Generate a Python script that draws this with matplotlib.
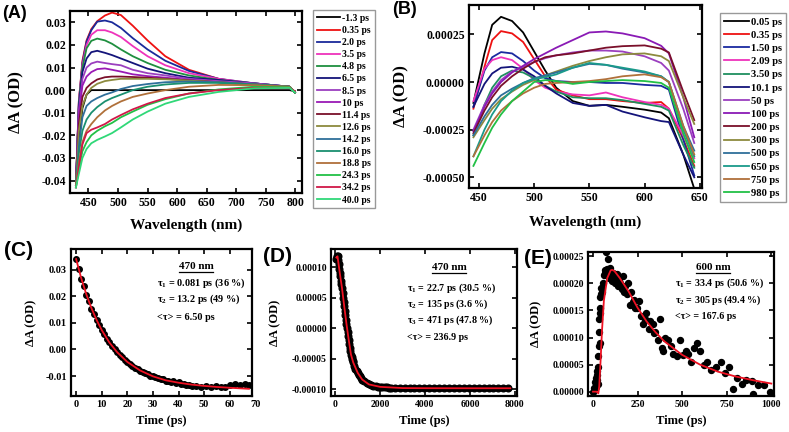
import matplotlib
matplotlib.use('Agg')
import matplotlib.pyplot as plt
from matplotlib.lines import Line2D
from matplotlib.ticker import FormatStrFormatter

plt.rcParams['font.family'] = ['Liberation Serif', 'DejaVu Serif']
plt.rcParams['font.weight'] = 'bold'
plt.rcParams['axes.unicode_minus'] = False
plt.rcParams['mathtext.default'] = 'regular'

W, H = 789, 432

# ---------------- panel A: spectra, values in mOD ----------------
wl_a = [429, 434, 440, 447, 455, 465, 478, 490, 505, 525, 550, 580, 620, 670, 730, 790, 799]
a_neg1_3 = [-43, -22, -8, -2, 0, 0, 0, 0, 0, 0, 0, 0, 0, 0, 0, 0, -0.5]
a_0_35 = [-42, -5, 13, 22, 27, 30.5, 33, 34.3, 33.2, 28.5, 22, 15, 9, 5, 2.5, 1.5, -1]
a_2_0 = [-42, -5, 12, 21.5, 26.5, 30.3, 30.8, 30, 27.5, 23, 18, 13, 8.5, 5, 3, 1.5, -1]
a_3_5 = [-42, -5, 11, 20, 24.5, 26.5, 26.5, 25.5, 23.5, 19.5, 15, 11, 7.5, 5, 3, 1.5, -1]
a_4_8 = [-42, -6, 10, 18.5, 21.8, 22.8, 22, 20.5, 18, 15, 12, 9, 6.5, 4.5, 3, 1.5, -1]
a_6_5 = [-42, -7, 8, 14, 16.8, 17.4, 16.5, 15.5, 14, 12, 9.5, 7.5, 5.5, 4.5, 3, 1.5, -1]
a_8_5 = [-42, -9, 5, 10, 11.8, 12.6, 12, 11.5, 11, 9, 7.5, 6.5, 5, 4, 3, 1.5, -1]
a_10 = [-42, -11, 2, 6, 8, 9.3, 9.6, 9, 8.2, 7, 6.2, 5.5, 4.5, 3.5, 2.5, 1.5, -1]
a_11_4 = [-42, -15, -3, 1, 3, 4.7, 5.7, 6, 6, 5.8, 5.5, 5, 4.3, 3.5, 2.5, 1.5, -1]
a_12_6 = [-42, -18, -7, -2, 1, 2.8, 4, 4.5, 5, 5, 5, 4.8, 4.2, 3.5, 2.5, 1.5, -1]
a_14_2 = [-42, -25, -12, -7, -5, -3.5, -2, -1, 0.5, 1.8, 2.7, 3.5, 3.8, 3.5, 2.5, 1.5, -1]
a_16_0 = [-42, -28, -18, -13, -10, -7.5, -5, -3.5, -2, 0, 1.5, 2.5, 3.2, 3.2, 2.5, 1.5, -1]
a_18_8 = [-42, -32, -23, -18, -15, -12, -9, -7, -5, -3, -1.5, 0, 1.5, 2.3, 2.2, 1.5, -1]
a_24_3 = [-43, -35, -27, -23, -20, -18, -16, -14.5, -12, -9.5, -6.5, -4, -1.5, 0.3, 1.5, 1.2, -1]
a_34_2 = [-43, -34, -24, -19, -17.5, -16.5, -15, -13, -11, -8.5, -6, -3.5, -1.5, 0, 1, 1, -0.5]
a_40_0 = [-43, -37, -30, -26, -23.5, -22, -20.5, -19, -16.5, -13, -9.5, -6, -3, -0.8, 0.8, 1, -1]
series_a = [a_neg1_3, a_0_35, a_2_0, a_3_5, a_4_8, a_6_5, a_8_5, a_10, a_11_4,
            a_12_6, a_14_2, a_16_0, a_18_8, a_24_3, a_34_2, a_40_0]
labels_a = ['-1.3 ps', '0.35 ps', '2.0 ps', '3.5 ps', '4.8 ps', '6.5 ps', '8.5 ps', '10 ps',
            '11.4 ps', '12.6 ps', '14.2 ps', '16.0 ps', '18.8 ps', '24.3 ps', '34.2 ps', '40.0 ps']
colors_a = ['#000000', '#ee1111', '#1a2a9a', '#ee33bb', '#1f8f3f', '#14147a', '#9b3fbf', '#9a1ab5',
            '#7a0f2a', '#8c8a3e', '#2f6f9a', '#1a8f6f', '#b0703a', '#22c046', '#d01848', '#30d878']

# ---------------- panel B: spectra, values in 1e-4 OD ----------------
wl_b = [445, 455, 462, 470, 480, 490, 500, 510, 520, 535, 550, 565, 580, 600, 615, 622, 635, 645]
b_0_05 = [-1.1, 1.5, 3.0, 3.42, 3.2, 2.6, 1.6, 0.6, -0.3, -1.0, -1.25, -1.2, -1.3, -1.45, -1.6, -1.9, -3.8, -5.6]
b_0_35 = [-1.4, 0.8, 2.2, 2.67, 2.55, 2.1, 1.2, 0.3, -0.4, -0.7, -0.9, -0.9, -1.0, -1.1, -1.05, -1.4, -3.0, -4.4]
b_1_50 = [-1.3, 0.6, 1.3, 1.57, 1.5, 1.1, 0.6, 0.2, 0.05, 0.0, 0.0, -0.05, -0.05, -0.15, -0.2, -0.4, -3.0, -4.9]
b_2_09 = [-1.0, 0.7, 1.15, 1.3, 1.15, 0.7, 0.1, -0.3, -0.5, -0.65, -0.7, -0.55, -0.8, -1.05, -1.2, -1.4, -2.8, -4.0]
b_3_50 = [-2.8, -1.2, -0.3, 0.3, 0.6, 0.5, 0.2, -0.2, -0.5, -0.8, -0.85, -0.85, -0.95, -1.15, -1.3, -1.5, -3.3, -4.5]
b_10_1 = [-1.3, -0.1, 0.45, 0.75, 0.8, 0.65, 0.3, -0.2, -0.6, -1.1, -1.25, -1.2, -1.55, -1.85, -2.05, -2.1, -3.8, -5.0]
b_50 = [-2.5, -1.2, -0.5, 0.1, 0.55, 0.8, 1.05, 1.25, 1.4, 1.55, 1.65, 1.65, 1.6, 1.35, 1.0, 0.6, -1.4, -3.2]
b_100 = [-2.6, -1.3, -0.6, 0.0, 0.5, 0.85, 1.2, 1.5, 1.8, 2.2, 2.6, 2.65, 2.55, 2.3, 1.9, 1.5, -0.8, -2.9]
b_200 = [-2.7, -1.5, -0.8, -0.2, 0.3, 0.7, 1.05, 1.3, 1.4, 1.5, 1.65, 1.8, 1.88, 1.92, 1.75, 1.55, -0.5, -2.0]
b_300 = [-2.9, -2.0, -1.4, -0.9, -0.5, -0.15, 0.1, 0.35, 0.55, 0.85, 1.1, 1.3, 1.45, 1.5, 1.35, 1.1, -0.8, -2.2]
b_500 = [-2.8, -1.8, -1.2, -0.7, -0.35, -0.05, 0.2, 0.35, 0.5, 0.75, 0.95, 0.9, 0.7, 0.5, 0.3, 0.0, -2.3, -3.6]
b_650 = [-3.9, -2.5, -1.7, -1.0, -0.45, -0.05, 0.15, 0.25, 0.4, 0.75, 1.0, 0.9, 0.75, 0.55, 0.3, 0.0, -2.5, -3.9]
b_750 = [-3.9, -2.8, -2.1, -1.5, -1.0, -0.6, -0.3, -0.1, -0.05, 0.0, 0.05, 0.15, 0.3, 0.4, 0.25, 0.0, -2.3, -3.8]
b_980 = [-4.4, -3.2, -2.4, -1.7, -1.0, -0.5, 0.0, 0.1, 0.05, -0.1, 0.0, 0.05, 0.1, 0.05, -0.05, -0.3, -2.7, -4.2]
series_b = [b_0_05, b_0_35, b_1_50, b_2_09, b_3_50, b_10_1, b_50, b_100, b_200, b_300,
            b_500, b_650, b_750, b_980]
labels_b = ['0.05 ps', '0.35 ps', '1.50 ps', '2.09 ps', '3.50 ps', '10.1 ps', '50 ps', '100 ps',
            '200 ps', '300 ps', '500 ps', '650 ps', '750 ps', '980 ps']
colors_b = ['#000000', '#ee1111', '#1a2aa0', '#ee33bb', '#1f8f5f', '#14147a', '#9b3fbf', '#8a1ab5',
            '#7a0f2a', '#8c8a3e', '#2f6f9a', '#1a9a8a', '#b0703a', '#22c046']

# ---------------- panel C: kinetics 470 nm, mOD ----------------
c_t = [0, 1, 2, 3, 4, 5, 6, 7, 8, 9, 10, 11, 12, 13, 14, 15, 16, 17, 18, 19, 20, 21, 22,
       23, 24, 25, 26, 27, 28, 29, 30, 31, 32, 33, 34, 35, 36, 37, 38, 39, 40, 41, 42, 43, 44,
       45.2, 47, 48.7, 50.6, 52.5, 54.5, 56.4, 58.3, 60.3, 62.2, 64.1, 66.1, 67.6]
c_dA = [34.0, 30.4, 26.7, 23.7, 20.6, 18.1, 15.4, 13.3, 11.0, 9.2, 7.2, 5.7, 4.0, 2.7, 1.2,
        0.3, -0.9, -2.1, -2.9, -3.9, -4.6, -5.6, -6.1, -6.9, -7.3, -8.0, -8.3, -9.0, -9.2,
        -9.8, -10.0, -10.5, -10.6, -11.1, -11.2, -11.7, -11.7, -12.2, -12.0, -12.5, -12.4,
        -13.0, -12.8, -13.3, -13.2, -13.9, -13.7, -14.0, -13.8, -14.0, -13.9, -14.0, -14.1,
        -13.2, -13.1, -13.2, -13.1, -13.3]
c_fit_t = [0, 2, 4, 6, 8, 10, 13, 16, 20, 25, 30, 35, 40, 45, 50, 55, 60, 67.5]
c_fit = [34.0, 26.8, 20.7, 15.5, 11.1, 7.3, 2.6, -1.0, -4.7, -7.9, -10.1, -11.6, -12.5,
         -13.2, -13.7, -14.1, -14.4, -14.8]

# ---------------- panel D: kinetics 470 nm, 1e-5 OD ----------------
d_t = [40, 60, 80, 100, 125, 150, 175, 200, 225, 250, 275, 300, 325, 350, 375, 400, 425,
       450, 475, 500, 525, 550, 575, 600, 625, 650, 675, 700, 725, 750, 775, 800, 850, 900,
       950, 1000, 1050, 1100, 1150, 1200, 1300, 1400, 1500, 1600, 1700, 1800, 1900, 2000,
       2100, 2200, 2300, 2400, 2500, 2650, 2870, 3090, 3310, 3530, 3750, 3970, 4190, 4410,
       4630, 4850, 5070, 5290, 5510, 5730, 5950, 6170, 6390, 6610, 6830, 7050, 7270, 7490,
       7710]
d_dA = [11.4, 11.7, 11.9, 11.8, 11.2, 10.5, 9.8, 9.1, 8.5, 7.8, 7.2, 6.6, 5.8, 5.0, 4.3,
        3.6, 2.9, 2.2, 1.4, 0.7, 0.0, -0.6, -1.3, -1.9, -2.6, -3.2, -3.8, -4.3, -4.7, -5.0,
        -5.3, -5.6, -6.1, -6.6, -7.0, -7.3, -7.6, -7.9, -8.2, -8.4, -8.7, -9.0, -9.2, -9.3,
        -9.45, -9.5, -9.55, -9.6, -9.65, -9.7, -9.7, -9.72, -9.75, -9.8, -9.75, -9.8, -9.8,
        -9.78, -9.8, -9.82, -9.8, -9.78, -9.8, -9.8, -9.82, -9.8, -9.78, -9.8, -9.8, -9.8,
        -9.82, -9.8, -9.8, -9.78, -9.8, -9.8, -9.8]
d_fit_t = [50, 100, 200, 300, 400, 500, 600, 700, 800, 1000, 1200, 1500, 2000, 3000, 4000, 6000, 7800]
d_fit = [11.6, 11.8, 9.1, 6.6, 3.6, 0.7, -1.9, -4.3, -5.6, -7.3, -8.4, -9.2, -9.6, -9.8,
         -9.82, -9.83, -9.83]

# ---------------- panel E: kinetics 600 nm, 1e-5 OD ----------------
e_t = [2, 8, 12, 15, 17, 19, 21, 23, 25, 27, 28, 30, 31, 33, 35, 37, 38, 40, 42, 44, 46, 50,
       55, 60, 65, 70, 75, 80, 84, 88, 92, 96, 100, 105, 110, 115, 120, 126, 132, 138, 145,
       152, 160, 168, 175, 182, 190, 198, 205, 212, 222, 230, 238, 245, 258, 270, 282, 292,
       300, 312, 322, 335, 340, 350, 365, 378, 385, 395, 405, 420, 435, 450, 470, 490, 505,
       520, 535, 550, 565, 585, 600, 620, 640, 660, 690, 715, 740, 760, 785, 810, 835, 860,
       890, 895, 925, 960, 995]
e_dA = [0.0, 0.6, 1.8, 0.9, 2.5, 1.2, 3.0, 2.2, 3.8, 1.5, 4.6, 6.5, 8.5, 11.0, 13.5, 9.0,
        15.5, 17.5, 14.5, 18.0, 19.2, 18.5, 20.0, 21.5, 22.0, 22.5, 25.8, 22.7, 24.5, 22.0,
        21.0, 22.8, 21.2, 20.5, 22.0, 20.8, 21.5, 20.0, 21.8, 19.5, 20.8, 20.0, 19.0, 21.4,
        18.5, 19.5, 18.0, 20.0, 16.0, 18.5, 16.5, 17.0, 15.5, 15.5, 16.8, 14.0, 12.5, 13.5,
        14.5, 11.5, 13.0, 12.5, 10.8, 11.0, 9.5, 13.5, 8.0, 7.5, 10.0, 9.5, 8.5, 7.0, 6.5,
        9.5, 6.8, 7.5, 7.0, 5.5, 8.0, 9.0, 7.5, 5.0, 5.5, 4.0, 4.5, 5.5, 3.5, 4.5, 0.5, 2.5,
        1.5, 2.2, 2.0, -0.5, 1.2, 1.2, 0.0]
e_fit_t = [0, 20, 30, 35, 43, 50, 61, 80, 99, 107, 120, 150, 200, 250, 300, 350, 400, 500,
           600, 700, 800, 900, 1000]
e_fit = [0, 0, -0.3, 1.0, 6.0, 11.0, 16.8, 21.0, 22.4, 22.5, 22.3, 21.0, 18.5, 15.5, 13.0,
         11.0, 9.3, 6.8, 5.0, 3.7, 2.8, 2.1, 1.5]

fig = plt.figure(figsize=(W / 100, H / 100), dpi=100)
B = 'bold'


def box(px_l, px_t, px_r, px_b):
    return [px_l / W, 1 - px_b / H, (px_r - px_l) / W, (px_b - px_t) / H]


def style(ax, fs):
    ax.tick_params(direction='in', top=True, right=True, length=3.5, width=1.2,
                   labelsize=fs, pad=3)
    for s in ax.spines.values():
        s.set_linewidth(1.6)


# A
ax_a = fig.add_axes(box(70, 11, 302, 193))
for vals, lab, col in zip(series_a, labels_a, colors_a):
    ax_a.plot(wl_a, [v * 1e-3 for v in vals], color=col, lw=1.3, label=lab)
ax_a.set_xlim(419, 811)
ax_a.set_ylim(-0.0455, 0.035)
ax_a.set_xticks([450, 500, 550, 600, 650, 700, 750, 800])
ax_a.set_yticks([-0.04, -0.03, -0.02, -0.01, 0.0, 0.01, 0.02, 0.03])
ax_a.yaxis.set_major_formatter(FormatStrFormatter('%.2f'))
style(ax_a, 8.5)
ax_a.set_xlabel('Wavelength (nm)', fontsize=11, fontweight=B, labelpad=7)
ax_a.set_ylabel('ΔA (OD)', fontsize=12, fontweight=B, labelpad=12)
leg = ax_a.legend(loc='upper left', bbox_to_anchor=(313 / W, 1 - 10 / H),
                  bbox_transform=fig.transFigure, borderaxespad=0,
                  prop={'size': 7, 'weight': B},
                  labelspacing=0.32, handlelength=2.4, handletextpad=0.2, borderpad=0.4,
                  fancybox=False, edgecolor='#999999', framealpha=1)
leg.get_frame().set_linewidth(1.0)

# B
ax_b = fig.add_axes(box(469, 5, 702, 188))
for vals, lab, col in zip(series_b, labels_b, colors_b):
    ax_b.plot(wl_b, [v * 1e-4 for v in vals], color=col, lw=1.3, label=lab)
ax_b.set_xlim(441, 652)
ax_b.set_ylim(-0.000556, 0.000404)
ax_b.set_xticks([450, 500, 550, 600, 650])
ax_b.set_yticks([-0.0005, -0.00025, 0.0, 0.00025])
ax_b.yaxis.set_major_formatter(FormatStrFormatter('%.5f'))
style(ax_b, 8.5)
ax_b.set_xlabel('Wavelength (nm)', fontsize=11, fontweight=B, labelpad=8)
ax_b.set_ylabel('ΔA (OD)', fontsize=12, fontweight=B, labelpad=9)
leg = ax_b.legend(loc='upper left', bbox_to_anchor=(720 / W, 1 - 13 / H),
                  bbox_transform=fig.transFigure, borderaxespad=0,
                  prop={'size': 7.6, 'weight': B},
                  labelspacing=0.36, handlelength=2.3, handletextpad=0.2, borderpad=0.4,
                  fancybox=False, edgecolor='#999999', framealpha=1)
leg.get_frame().set_linewidth(1.0)

# C
ax_c = fig.add_axes(box(71, 249, 252, 396))
ax_c.plot(c_t, [v * 1e-3 for v in c_dA], 'o', color='black', ms=4, zorder=2)
ax_c.plot(c_fit_t, [v * 1e-3 for v in c_fit], color='#ee1122', lw=1.3, zorder=3)
ax_c.set_xlim(-2, 68.7)
ax_c.set_ylim(-0.0175, 0.0378)
ax_c.set_xticks([0, 10, 20, 30, 40, 50, 60])
ax_c.set_yticks([-0.01, 0.0, 0.01, 0.02, 0.03])
ax_c.yaxis.set_major_formatter(FormatStrFormatter('%.2f'))
style(ax_c, 7.5)
ax_c.annotate('70', xy=(70, 0), xycoords=('data', 'axes fraction'), xytext=(0, -3),
              textcoords='offset points', ha='center', va='top', fontsize=7.5,
              fontweight=B, annotation_clip=False)
ax_c.set_xlabel('Time (ps)', fontsize=9, fontweight=B, labelpad=4)
ax_c.set_ylabel('ΔA (OD)', fontsize=9, fontweight=B, labelpad=6)

# D
ax_d = fig.add_axes(box(331, 249, 517, 396))
ax_d.plot(d_t, [v * 1e-5 for v in d_dA], 'o', color='black', ms=4.8, zorder=2)
ax_d.plot(d_fit_t, [v * 1e-5 for v in d_fit], color='#ee1122', lw=1.3, zorder=3)
ax_d.set_xlim(-190, 8100)
ax_d.set_ylim(-0.000111, 0.00013)
ax_d.set_xticks([0, 2000, 4000, 6000, 8000])
ax_d.set_yticks([-0.0001, -0.00005, 0.0, 0.00005, 0.0001])
ax_d.yaxis.set_major_formatter(FormatStrFormatter('%.5f'))
style(ax_d, 7)
ax_d.set_xlabel('Time (ps)', fontsize=9, fontweight=B, labelpad=4)
ax_d.set_ylabel('ΔA (OD)', fontsize=9, fontweight=B, labelpad=8)

# E
ax_e = fig.add_axes(box(588, 252, 774, 396))
ax_e.plot(e_t, [v * 1e-5 for v in e_dA], 'o', color='black', ms=4.3, zorder=2)
ax_e.plot(e_fit_t, [v * 1e-5 for v in e_fit], color='#ee1122', lw=1.3, zorder=3)
ax_e.set_xlim(-28, 1015)
ax_e.set_ylim(-0.000008, 0.000258)
ax_e.set_xticks([0, 250, 500, 750, 1000])
ax_e.set_yticks([0.0, 0.00005, 0.0001, 0.00015, 0.0002, 0.00025])
ax_e.yaxis.set_major_formatter(FormatStrFormatter('%.5f'))
style(ax_e, 7)
ax_e.set_xlabel('Time (ps)', fontsize=9, fontweight=B, labelpad=4)
ax_e.set_ylabel('ΔA (OD)', fontsize=9, fontweight=B, labelpad=7)

# fit annotations
heads = []
heads.append(ax_c.text(0.69, 0.878, '470 nm', transform=ax_c.transAxes, ha='center',
                       va='center', fontsize=8, fontweight=B))
for y, s in zip([0.769, 0.660, 0.537],
                [r'$\tau_1$ = 0.081 ps (36 %)', r'$\tau_2$ = 13.2 ps (49 %)', '<τ> = 6.50 ps']):
    ax_c.text(0.475, y, s, transform=ax_c.transAxes, va='center', fontsize=7.4, fontweight=B)

heads.append(ax_d.text(0.634, 0.871, '470 nm', transform=ax_d.transAxes, ha='center',
                       va='center', fontsize=8, fontweight=B))
for y, s in zip([0.735, 0.626, 0.517, 0.401],
                [r'$\tau_1$ = 22.7 ps (30.5 %)', r'$\tau_2$ = 135 ps (3.6 %)',
                 r'$\tau_3$ = 471 ps (47.8 %)', '<τ> = 236.9 ps']):
    ax_d.text(0.409, y, s, transform=ax_d.transAxes, va='center', fontsize=7.2, fontweight=B)

heads.append(ax_e.text(0.672, 0.889, '600 nm', transform=ax_e.transAxes, ha='center',
                       va='center', fontsize=8, fontweight=B))
for y, s in zip([0.785, 0.667, 0.549],
                [r'$\tau_1$ = 33.4 ps (50.6 %)', r'$\tau_2$ = 305 ps (49.4 %)',
                 '<τ> = 167.6 ps']):
    ax_e.text(0.468, y, s, transform=ax_e.transAxes, va='center', fontsize=7.2, fontweight=B)

# panel letters
for x, y, s, fs in [(2, 14, '(A)', 13), (392, 9, '(B)', 13), (4, 250, '(C)', 15),
                    (263, 256, '(D)', 15), (524, 259, '(E)', 15)]:
    fig.text(x / W, 1 - y / H, s, fontsize=fs, fontweight=B, va='center',
             family=['Liberation Sans', 'DejaVu Sans'])

fig.canvas.draw()
for ax in [ax_a, ax_b, ax_c, ax_d, ax_e]:
    for lab in ax.get_xticklabels() + ax.get_yticklabels():
        lab.set_fontweight(B)

# underline the wavelength headers
for t in heads:
    bb = t.get_window_extent()
    yy = (bb.y0 - 0.5) / H
    fig.add_artist(Line2D([bb.x0 / W, bb.x1 / W], [yy, yy], color='black', lw=0.9))

fig.savefig('out.png', dpi=100)
